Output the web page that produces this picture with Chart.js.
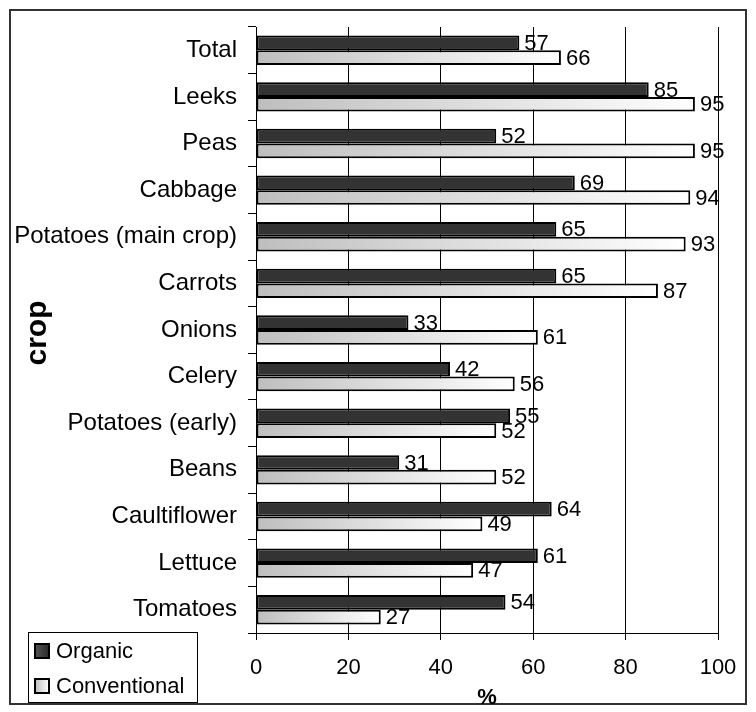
<!DOCTYPE html>
<html>
<head>
<meta charset="utf-8">
<script src="https://cdn.jsdelivr.net/npm/chart.js@4.4.1/dist/chart.umd.min.js"></script>
<style>
  html, body { margin: 0; padding: 0; background: #fff; }
  #wrap { width: 756px; height: 712px; position: relative; }
</style>
</head>
<body>
<div id="wrap"><canvas id="c" width="756" height="712"></canvas></div>
<script>
// Share of crop (%) by farming system
const crops = ['Total', 'Leeks', 'Peas', 'Cabbage', 'Potatoes (main crop)', 'Carrots', 'Onions',
  'Celery', 'Potatoes (early)', 'Beans', 'Caultiflower', 'Lettuce', 'Tomatoes'];
const organic = [57, 85, 52, 69, 65, 65, 33, 42, 55, 31, 64, 61, 54];
const conventional = [66, 95, 95, 94, 93, 87, 61, 56, 52, 52, 49, 47, 27];
const seriesNames = ['Organic', 'Conventional'];
const xTicks = [0, 20, 40, 60, 80, 100];
const axisTitleX = '%';
const axisTitleY = 'crop';

const FONT = 'Arial, "Liberation Sans", sans-serif';

// light-grey-to-white fill running along each conventional bar
function convFill(ctx) {
  const chart = ctx.chart;
  const xs = chart.scales.x;
  if (!chart.chartArea || !xs || ctx.raw === undefined) return '#dcdcdc';
  const x0 = xs.getPixelForValue(0);
  const x1 = xs.getPixelForValue(ctx.raw);
  if (!isFinite(x0) || !isFinite(x1) || x1 - x0 < 1) return '#dcdcdc';
  const g = chart.ctx.createLinearGradient(x0, 0, x1, 0);
  g.addColorStop(0, '#bebebe');
  g.addColorStop(1, '#ffffff');
  return g;
}

const decor = {
  id: 'decor',
  beforeDraw(chart) {
    const c = chart.ctx;
    c.save();
    c.fillStyle = '#fff';
    c.fillRect(0, 0, chart.width, chart.height);
    c.restore();
  },
  afterDatasetsDraw(chart) {
    const c = chart.ctx;
    c.save();
    c.font = '22px ' + FONT;
    c.fillStyle = '#000';
    c.textAlign = 'left';
    c.textBaseline = 'middle';
    chart.data.datasets.forEach((ds, di) => {
      const meta = chart.getDatasetMeta(di);
      meta.data.forEach((bar, i) => {
        c.fillText(String(ds.data[i]), bar.x + 5, bar.y + 1);
      });
    });
    c.restore();
  },
  afterDraw(chart) {
    const c = chart.ctx;
    const area = chart.chartArea;
    c.save();
    // outer frame
    c.strokeStyle = '#333';
    c.lineWidth = 2;
    c.strokeRect(10, 10, 736, 694);

    // axis titles
    c.fillStyle = '#000';
    c.font = 'bold 22px ' + FONT;
    c.textAlign = 'center';
    c.textBaseline = 'middle';
    c.fillText(axisTitleX, (area.left + area.right) / 2, 698);

    c.save();
    c.translate(38, (area.top + area.bottom) / 2 + 3);
    c.rotate(-Math.PI / 2);
    c.font = 'bold 30px ' + FONT;
    c.fillText(axisTitleY, 0, 0);
    c.restore();

    // legend box
    c.fillStyle = '#fff';
    c.fillRect(28.5, 632.5, 169, 70);
    c.strokeStyle = '#000';
    c.lineWidth = 1;
    c.strokeRect(28.5, 632.5, 169, 70);

    const rows = [651, 686];
    rows.forEach((cy, k) => {
      const sx = 35, sy = cy - 7, s = 14;
      let fill;
      if (k === 0) {
        fill = c.createLinearGradient(sx, 0, sx + s, 0);
        fill.addColorStop(0, '#555');
        fill.addColorStop(1, '#2a2a2a');
      } else {
        fill = c.createLinearGradient(sx, 0, sx + s, 0);
        fill.addColorStop(0, '#bebebe');
        fill.addColorStop(1, '#ffffff');
      }
      c.fillStyle = fill;
      c.fillRect(sx, sy, s, s);
      c.lineWidth = 2;
      c.strokeStyle = '#000';
      c.strokeRect(sx, sy, s, s);
      c.fillStyle = '#000';
      c.font = '22px ' + FONT;
      c.textAlign = 'left';
      c.textBaseline = 'middle';
      c.fillText(seriesNames[k], 56, cy + 1);
    });
    c.restore();
  }
};

new Chart(document.getElementById('c'), {
  type: 'bar',
  data: {
    labels: crops,
    datasets: [
      {
        label: seriesNames[0],
        data: organic,
        backgroundColor: '#333333',
        borderColor: '#000000',
        borderWidth: 2,
        borderSkipped: false
      },
      {
        label: seriesNames[1],
        data: conventional,
        backgroundColor: convFill,
        borderColor: '#000000',
        borderWidth: 2,
        borderSkipped: false
      }
    ]
  },
  options: {
    indexAxis: 'y',
    responsive: false,
    animation: false,
    devicePixelRatio: 1,
    categoryPercentage: 0.63,
    barPercentage: 1.0,
    layout: { padding: { left: 0, top: 27, right: 38, bottom: 0 } },
    plugins: {
      legend: { display: false },
      tooltip: { enabled: false }
    },
    scales: {
      x: {
        type: 'linear',
        min: xTicks[0],
        max: xTicks[xTicks.length - 1],
        afterBuildTicks(scale) {
          scale.ticks = xTicks.map(v => ({ value: v }));
        },
        afterFit(scale) { scale.height = 79; },
        ticks: {
          color: '#000',
          font: { family: FONT, size: 22 },
          padding: 15,
          maxRotation: 0
        },
        grid: {
          color: '#000',
          lineWidth: 1,
          tickLength: 7,
          drawOnChartArea: true
        },
        border: { display: true, color: '#000', width: 1 }
      },
      y: {
        type: 'category',
        afterFit(scale) { scale.width = 256; },
        ticks: {
          color: '#000',
          font: { family: FONT, size: 24 },
          padding: 11,
          autoSkip: false
        },
        grid: {
          offset: true,
          drawOnChartArea: false,
          color: '#000',
          tickLength: 8
        },
        border: { display: true, color: '#000', width: 1 }
      }
    }
  },
  plugins: [decor]
});
</script>
</body>
</html>
